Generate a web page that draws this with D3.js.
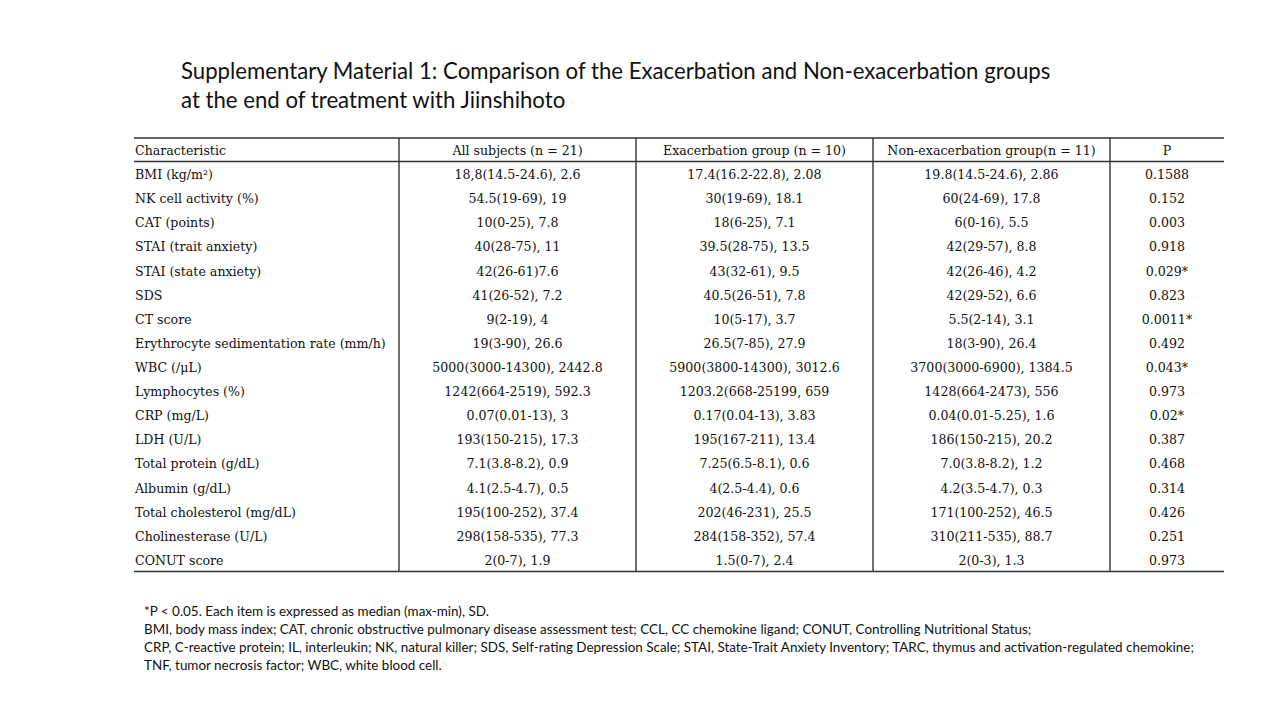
<!DOCTYPE html>
<html>
<head>
<meta charset="utf-8">
<script src="https://cdn.jsdelivr.net/npm/d3@7"></script>
<style>
  html, body { margin: 0; padding: 0; background: #fff; }
  svg { display: block; }
</style>
</head>
<body>
<script>
const titleLines = [
  "Supplementary Material 1: Comparison of the Exacerbation and Non-exacerbation groups",
  "at the end of treatment with Jiinshihoto"
];
const headers = ["Characteristic", "All subjects (n = 21)", "Exacerbation group (n = 10)", "Non-exacerbation group(n = 11)", "P"];
const characteristics = [
  "BMI (kg/m²)", "NK cell activity (%)", "CAT (points)", "STAI (trait anxiety)", "STAI (state anxiety)",
  "SDS", "CT score", "Erythrocyte sedimentation rate (mm/h)", "WBC (/μL)", "Lymphocytes (%)",
  "CRP (mg/L)", "LDH (U/L)", "Total protein (g/dL)", "Albumin (g/dL)", "Total cholesterol (mg/dL)",
  "Cholinesterase (U/L)", "CONUT score"
];
const allSubjects = [
  "18,8(14.5-24.6), 2.6", "54.5(19-69), 19", "10(0-25), 7.8", "40(28-75), 11", "42(26-61)7.6",
  "41(26-52), 7.2", "9(2-19), 4", "19(3-90), 26.6", "5000(3000-14300), 2442.8", "1242(664-2519), 592.3",
  "0.07(0.01-13), 3", "193(150-215), 17.3", "7.1(3.8-8.2), 0.9", "4.1(2.5-4.7), 0.5", "195(100-252), 37.4",
  "298(158-535), 77.3", "2(0-7), 1.9"
];
const exacerbation = [
  "17.4(16.2-22.8), 2.08", "30(19-69), 18.1", "18(6-25), 7.1", "39.5(28-75), 13.5", "43(32-61), 9.5",
  "40.5(26-51), 7.8", "10(5-17), 3.7", "26.5(7-85), 27.9", "5900(3800-14300), 3012.6", "1203.2(668-25199, 659",
  "0.17(0.04-13), 3.83", "195(167-211), 13.4", "7.25(6.5-8.1), 0.6", "4(2.5-4.4), 0.6", "202(46-231), 25.5",
  "284(158-352), 57.4", "1.5(0-7), 2.4"
];
const nonExacerbation = [
  "19.8(14.5-24.6), 2.86", "60(24-69), 17.8", "6(0-16), 5.5", "42(29-57), 8.8", "42(26-46), 4.2",
  "42(29-52), 6.6", "5.5(2-14), 3.1", "18(3-90), 26.4", "3700(3000-6900), 1384.5", "1428(664-2473), 556",
  "0.04(0.01-5.25), 1.6", "186(150-215), 20.2", "7.0(3.8-8.2), 1.2", "4.2(3.5-4.7), 0.3", "171(100-252), 46.5",
  "310(211-535), 88.7", "2(0-3), 1.3"
];
const pValues = [
  "0.1588", "0.152", "0.003", "0.918", "0.029*",
  "0.823", "0.0011*", "0.492", "0.043*", "0.973",
  "0.02*", "0.387", "0.468", "0.314", "0.426",
  "0.251", "0.973"
];
const footnotes = [
  "*P < 0.05. Each item is expressed as median (max-min), SD.",
  "BMI, body mass index; CAT, chronic obstructive pulmonary disease assessment test; CCL, CC chemokine ligand; CONUT, Controlling Nutritional Status;",
  "CRP, C-reactive protein; IL, interleukin; NK, natural killer; SDS, Self-rating Depression Scale; STAI, State-Trait Anxiety Inventory; TARC, thymus and activation-regulated chemokine;",
  "TNF, tumor necrosis factor; WBC, white blood cell."
];

const W = 1280, H = 720;
const svg = d3.select("body").append("svg").attr("width", W).attr("height", H);

// Title
svg.append("g").selectAll("text").data(titleLines).join("text")
  .attr("x", 181).attr("y", (d, i) => 79 + i * 28.5)
  .attr("font-family", "Lato, 'Open Sans', sans-serif")
  .attr("font-size", 22.2)
  .attr("fill", "#111")
  .text(d => d);

// Table geometry
const colEdges = [134, 399, 636, 873, 1110, 1224];
const colKeys = d3.range(5);
const x0 = d3.scaleOrdinal().domain(colKeys).range(colEdges.slice(0, 5));
const x1 = d3.scaleOrdinal().domain(colKeys).range(colEdges.slice(1));
const rows = [headers].concat(characteristics.map((c, i) => [c, allSubjects[i], exacerbation[i], nonExacerbation[i], pValues[i]]));
const tableTop = 138, headerBottom = 161.5, tableBottom = 571.5;
const yRow = d3.scaleLinear().domain([0, characteristics.length]).range([headerBottom, tableBottom]);

const lineColor = "#333";
const g = svg.append("g");
[tableTop, headerBottom, tableBottom].forEach(v => {
  g.append("line").attr("x1", colEdges[0]).attr("x2", colEdges[5]).attr("y1", v).attr("y2", v)
    .attr("stroke", lineColor).attr("stroke-width", 1.6);
});
colEdges.slice(1, 5).forEach(v => {
  g.append("line").attr("x1", v).attr("x2", v).attr("y1", tableTop).attr("y2", tableBottom)
    .attr("stroke", lineColor).attr("stroke-width", 1.4);
});

const tf = "'DejaVu Serif', 'Liberation Serif', serif";
const fs = 12.6;
g.append("g").selectAll("text").data(headers).join("text")
  .attr("x", (d, i) => i === 0 ? colEdges[0] + 1 : (x0(i) + x1(i)) / 2)
  .attr("y", (tableTop + headerBottom) / 2 + 5.5)
  .attr("text-anchor", (d, i) => i === 0 ? "start" : "middle")
  .attr("font-family", tf).attr("font-size", fs).attr("fill", "#111")
  .text(d => d);

const body = g.append("g").selectAll("g").data(rows.slice(1)).join("g")
  .attr("transform", (d, i) => `translate(0,${(yRow(i) + yRow(i + 1)) / 2 + 5.5})`);
body.selectAll("text").data(d => d).join("text")
  .attr("x", (d, i) => i === 0 ? colEdges[0] + 1 : (x0(i) + x1(i)) / 2)
  .attr("text-anchor", (d, i) => i === 0 ? "start" : "middle")
  .attr("font-family", tf).attr("font-size", fs).attr("fill", "#111")
  .text(d => d);

svg.append("g").selectAll("text").data(footnotes).join("text")
  .attr("x", 144).attr("y", (d, i) => 616 + i * 18)
  .attr("font-family", "Lato, 'Open Sans', sans-serif")
  .attr("font-size", 13.45)
  .attr("fill", "#111")
  .text(d => d);
</script>
</body>
</html>
